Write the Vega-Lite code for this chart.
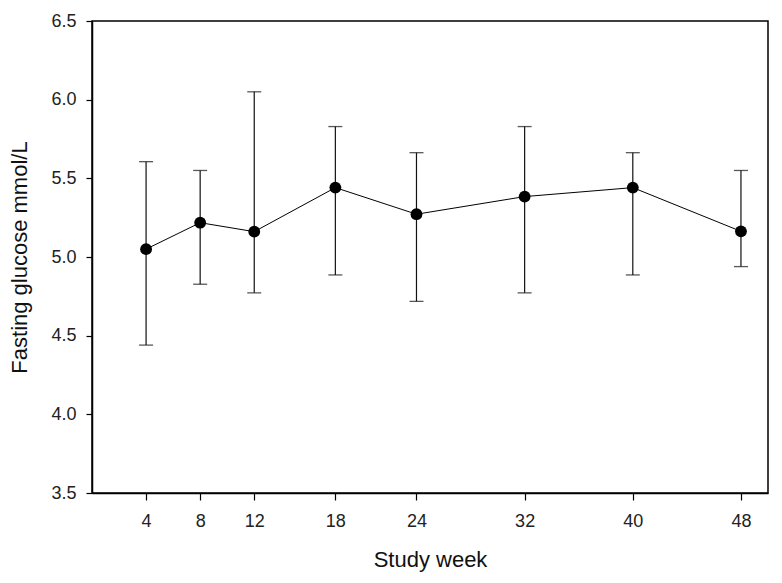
{
  "$schema": "https://vega.github.io/schema/vega-lite/v6.json",
  "width": 676,
  "height": 472,
  "autosize": "none",
  "padding": {"left": 92, "top": 21, "right": 14, "bottom": 90},
  "background": "white",
  "config": {
    "font": "Liberation Sans",
    "view": {"stroke": "black", "strokeWidth": 1.5},
    "axis": {
      "grid": false,
      "domainColor": "black",
      "domainWidth": 1.5,
      "tickColor": "black",
      "tickWidth": 1.2,
      "tickSize": 7,
      "labelFont": "Liberation Sans",
      "labelFontSize": 18,
      "labelColor": "#222",
      "titleFont": "Liberation Sans",
      "titleFontSize": 22,
      "titleFontWeight": "normal",
      "titleColor": "#111"
    }
  },
  "data": {
    "values": [
      {"week": 4, "mean": 5.05, "lo": 4.44, "hi": 5.606},
      {"week": 8, "mean": 5.218, "lo": 4.827, "hi": 5.55},
      {"week": 12, "mean": 5.161, "lo": 4.772, "hi": 6.05},
      {"week": 18, "mean": 5.441, "lo": 4.886, "hi": 5.829},
      {"week": 24, "mean": 5.272, "lo": 4.718, "hi": 5.663},
      {"week": 32, "mean": 5.384, "lo": 4.772, "hi": 5.829},
      {"week": 40, "mean": 5.441, "lo": 4.886, "hi": 5.663},
      {"week": 48, "mean": 5.163, "lo": 4.939, "hi": 5.55}
    ]
  },
  "encoding": {
    "x": {
      "field": "week",
      "type": "quantitative",
      "scale": {"domain": [0, 50], "nice": false, "zero": false},
      "axis": {
        "title": "Study week",
        "values": [4, 8, 12, 18, 24, 32, 40, 48],
        "labelFontSize": 18,
        "titleFontSize": 22,
        "labelPadding": 12,
        "titlePadding": 19
      }
    }
  },
  "layer": [
    {
      "mark": {"type": "rule", "color": "#111", "strokeWidth": 1.2},
      "encoding": {
        "y": {
          "field": "lo",
          "type": "quantitative",
          "scale": {"domain": [3.5, 6.5], "nice": false, "zero": false},
          "axis": {
            "title": "Fasting glucose mmol/L",
            "values": [3.5, 4, 4.5, 5, 5.5, 6, 6.5],
            "format": ".1f",
            "labelFontSize": 18,
            "titleFontSize": 22,
            "tickSize": 6,
            "labelPadding": 10,
            "titlePadding": 19
          }
        },
        "y2": {"field": "hi"}
      }
    },
    {
      "mark": {"type": "tick", "orient": "horizontal", "color": "#111", "size": 14, "thickness": 1.3},
      "encoding": {"y": {"field": "lo", "type": "quantitative"}}
    },
    {
      "mark": {"type": "tick", "orient": "horizontal", "color": "#111", "size": 14, "thickness": 1.3},
      "encoding": {"y": {"field": "hi", "type": "quantitative"}}
    },
    {
      "mark": {"type": "line", "color": "black", "strokeWidth": 1},
      "encoding": {"y": {"field": "mean", "type": "quantitative"}}
    },
    {
      "mark": {"type": "point", "filled": true, "color": "black", "opacity": 1, "size": 140},
      "encoding": {"y": {"field": "mean", "type": "quantitative"}}
    }
  ]
}
